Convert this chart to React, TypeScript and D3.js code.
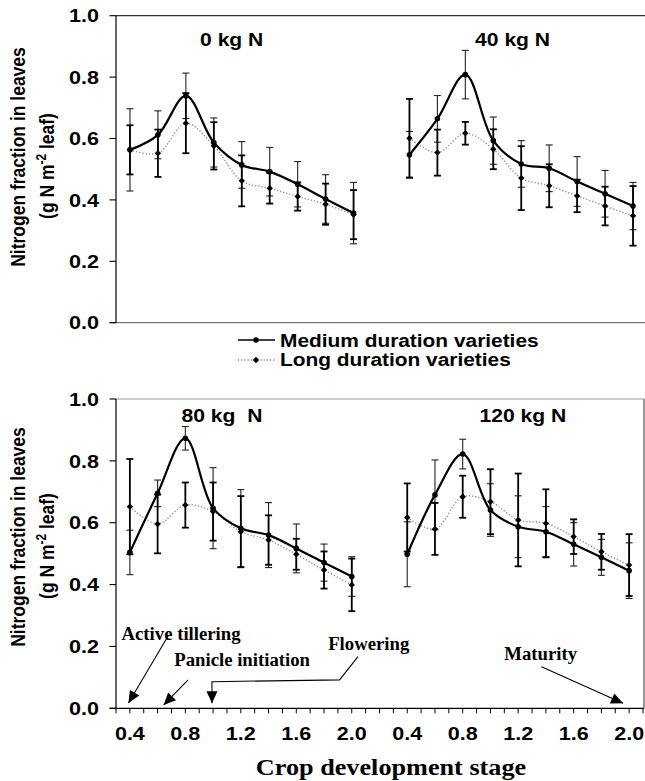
import React from 'react';
import * as d3 from 'd3';

// ---- data ----
const stages = [0.4, 0.6, 0.8, 1.0, 1.2, 1.4, 1.6, 1.8, 2.0];
const panelTitles = ['0 kg N', '40 kg N', '80 kg  N', '120 kg N'];
const yTicks = [0, 0.2, 0.4, 0.6, 0.8, 1.0];
const xTickLabels = ['0.4', '0.8', '1.2', '1.6', '2.0'];
const xTickValues = [0.4, 0.8, 1.2, 1.6, 2.0];
const seriesNames = ['Medium duration varieties', 'Long duration varieties'];

const med0 = [0.563, 0.612, 0.739, 0.587, 0.514, 0.492, 0.451, 0.403, 0.357];
const medErr0 = [0.134, 0.078, 0.074, 0.08, 0.076, 0.079, 0.074, 0.079, 0.1];
const long0 = [0.563, 0.552, 0.65, 0.576, 0.462, 0.438, 0.411, 0.386, 0.352];
const longErr0 = [0.08, 0.077, 0.098, 0.077, 0.083, 0.05, 0.046, 0.067, 0.08];

const med1 = [0.547, 0.664, 0.808, 0.593, 0.517, 0.503, 0.46, 0.42, 0.38];
const medErr1 = [0.076, 0.076, 0.079, 0.077, 0.076, 0.076, 0.081, 0.076, 0.077];
const long1 = [0.601, 0.554, 0.617, 0.565, 0.471, 0.446, 0.413, 0.38, 0.348];
const longErr1 = [0.128, 0.075, 0.037, 0.065, 0.104, 0.07, 0.053, 0.063, 0.097];

const med2 = [0.504, 0.695, 0.873, 0.647, 0.582, 0.56, 0.517, 0.471, 0.426];
const medErr2 = [0.072, 0.043, 0.038, 0.131, 0.125, 0.105, 0.079, 0.06, 0.064];
const long2 = [0.652, 0.596, 0.657, 0.636, 0.571, 0.544, 0.498, 0.447, 0.399];
const longErr2 = [0.154, 0.095, 0.073, 0.094, 0.115, 0.08, 0.05, 0.06, 0.085];

const med3 = [0.498, 0.69, 0.822, 0.641, 0.587, 0.571, 0.53, 0.488, 0.445];
const medErr3 = [0.105, 0.113, 0.048, 0.085, 0.1, 0.081, 0.07, 0.058, 0.09];
const long3 = [0.617, 0.58, 0.684, 0.668, 0.609, 0.598, 0.555, 0.506, 0.463];
const longErr3 = [0.11, 0.084, 0.068, 0.105, 0.15, 0.11, 0.056, 0.058, 0.1];

// annotations: label, label anchor (stage, value), arrow path points (stage, value) ending at tip
const annLabels = ['Active tillering', 'Panicle initiation', 'Flowering', 'Maturity'];
const annLabelPos = [[0.34, 0.22], [0.72, 0.137], [1.83, 0.19], [3.1, 0.155]];
const annPaths = [
  [[0.68, 0.237], [0.39, 0.017]],
  [[0.82, 0.092], [0.644, 0.011]],
  [[2.045, 0.167], [1.912, 0.092], [0.992, 0.086], [0.992, 0.016]],
  [[3.368, 0.134], [3.956, 0.016]],
];

const W = 645;
const H = 781;
const SX = 1.16;
const SANS = 'Liberation Sans, Arial, sans-serif';
const SERIF = 'Liberation Serif, Times New Roman, serif';

const xTop = d3.scaleLinear().domain([0.3, 4.1]).range([116, 647]);
const xBot = d3.scaleLinear().domain([0.3, 4.1]).range([116, 643]);
const yTop = d3.scaleLinear().domain([0, 1]).range([322.7, 15.7]);
const yBot = d3.scaleLinear().domain([0, 1]).range([708.3, 399]);

const panels = [
  { title: panelTitles[0], med: med0, medErr: medErr0, lng: long0, lngErr: longErr0, off: 0, row: 0, tx: 1.128, ty: 0.9 },
  { title: panelTitles[1], med: med1, medErr: medErr1, lng: long1, lngErr: longErr1, off: 2, row: 0, tx: 3.138, ty: 0.9 },
  { title: panelTitles[2], med: med2, medErr: medErr2, lng: long2, lngErr: longErr2, off: 0, row: 1, tx: 1.064, ty: 0.925 },
  { title: panelTitles[3], med: med3, medErr: medErr3, lng: long3, lngErr: longErr3, off: 2, row: 1, tx: 3.234, ty: 0.927 },
];

function T({ x, y, sx = SX, rot = 0, children, ...rest }: any) {
  return (
    <text transform={`translate(${x},${y}) scale(${sx},1)${rot ? ` rotate(${rot})` : ''}`} {...rest}>
      {children}
    </text>
  );
}

function Arrow({ pts, x, y }: any) {
  const p = pts.map((d: number[]) => [x(d[0]), y(d[1])]);
  const line = d3.line()(p as any) || '';
  const n = p.length;
  const [x1, y1] = p[n - 2];
  const [x2, y2] = p[n - 1];
  const ang = Math.atan2(y2 - y1, x2 - x1);
  const L = 12, hw = 5.5;
  const bx = x2 - L * Math.cos(ang), by = y2 - L * Math.sin(ang);
  const nx = -Math.sin(ang), ny = Math.cos(ang);
  const head = `M${x2},${y2}L${bx + hw * nx},${by + hw * ny}L${bx - hw * nx},${by - hw * ny}Z`;
  return (
    <g>
      <path d={line} fill="none" stroke="#000" strokeWidth={1.1} />
      <path d={head} fill="#000" />
    </g>
  );
}

function Panel({ p }: any) {
  const x = p.row === 0 ? xTop : xBot;
  const y = p.row === 0 ? yTop : yBot;
  const curve = d3.curveCatmullRom.alpha(0.5);
  const lineGen = d3.line<number>().x((_, i) => x(stages[i] + p.off)).y((d) => y(d)).curve(curve);
  const errBars = (vals: number[], errs: number[], color: string, sw: number) =>
    vals.map((v, i) => {
      const cx = x(stages[i] + p.off);
      const t = y(v + errs[i]);
      const b = y(v - errs[i]);
      return (
        <g key={i} stroke={color} strokeWidth={sw}>
          <line x1={cx} x2={cx} y1={t} y2={b} />
          <line x1={cx - 3.5} x2={cx + 3.5} y1={t} y2={t} />
          <line x1={cx - 3.5} x2={cx + 3.5} y1={b} y2={b} />
        </g>
      );
    });
  return (
    <g>
      {errBars(p.med, p.medErr, '#222', 1.1)}
      {errBars(p.lng, p.lngErr, '#000', 1.8)}
      <path d={lineGen(p.lng) || ''} fill="none" stroke="#8a8a8a" strokeWidth={1.4} strokeDasharray="1.2 2" />
      <path d={lineGen(p.med) || ''} fill="none" stroke="#000" strokeWidth={2.2} />
      {p.lng.map((v: number, i: number) => {
        const cx = x(stages[i] + p.off), cy = y(v);
        return <path key={'l' + i} d={`M${cx},${cy - 3.2}L${cx + 3.2},${cy}L${cx},${cy + 3.2}L${cx - 3.2},${cy}Z`} fill="#000" />;
      })}
      {p.med.map((v: number, i: number) => (
        <circle key={'m' + i} cx={x(stages[i] + p.off)} cy={y(v)} r={2.8} fill="#000" />
      ))}
      <T x={x(p.tx)} y={y(p.ty)} textAnchor="middle" fontFamily={SANS} fontWeight="bold" fontSize={18.2} style={{ whiteSpace: 'pre' }}>
        {p.title}
      </T>
    </g>
  );
}

function YAxis({ y, cyTitle }: any) {
  return (
    <g>
      <line x1={116} x2={116} y1={y(1)} y2={y(0)} stroke="#000" strokeWidth={1.2} />
      {yTicks.map((t) => (
        <g key={t}>
          <line x1={109.5} x2={116} y1={y(t)} y2={y(t)} stroke="#000" strokeWidth={1.1} />
          <T x={99} y={y(t)} dy="0.36em" textAnchor="end" fontFamily={SANS} fontWeight="bold" fontSize={18.6}>
            {t.toFixed(1)}
          </T>
        </g>
      ))}
      <T x={25} y={cyTitle} rot={-90} textAnchor="middle" fontFamily={SANS} fontWeight="bold" fontSize={17.5}>
        Nitrogen fraction in leaves
      </T>
      <T x={54} y={cyTitle + 9} rot={-90} textAnchor="middle" fontFamily={SANS} fontWeight="bold" fontSize={17.5}>
        (g N m<tspan dy="-7" fontSize={12}>-2</tspan>
        <tspan dy="7"> leaf)</tspan>
      </T>
    </g>
  );
}

export default function App() {
  const minorTicks = d3.range(0.3, 4.1001, 0.1);
  return (
    <svg width={W} height={H} style={{ display: 'block', position: 'absolute', left: 0, top: 0 }}>
      <rect width={W} height={H} fill="#fff" />
      {/* top frame */}
      <line x1={116} x2={645} y1={yTop(1)} y2={yTop(1)} stroke="#333" strokeWidth={1.2} />
      <line x1={109.5} x2={645} y1={yTop(0)} y2={yTop(0)} stroke="#777" strokeWidth={1.2} />
      <YAxis y={yTop} cyTitle={157} />
      {/* bottom frame */}
      <line x1={116} x2={644} y1={yBot(1)} y2={yBot(1)} stroke="#999" strokeWidth={1.2} />
      <line x1={644} x2={644} y1={yBot(1)} y2={yBot(0)} stroke="#555" strokeWidth={1.2} />
      <YAxis y={yBot} cyTitle={537} />
      <line x1={109.5} x2={644} y1={yBot(0)} y2={yBot(0)} stroke="#000" strokeWidth={1.2} />
      {minorTicks.map((t, i) => (
        <line key={i} x1={xBot(t)} x2={xBot(t)} y1={yBot(0)} y2={yBot(0) + 5} stroke="#000" strokeWidth={1} />
      ))}
      {[0, 2].map((off) =>
        xTickValues.map((v, i) => (
          <T key={off + '-' + i} x={xBot(v + off)} y={740} textAnchor="middle" fontFamily={SANS} fontWeight="bold" fontSize={18.6}>
            {xTickLabels[i]}
          </T>
        ))
      )}
      <T x={391} y={775} textAnchor="middle" fontFamily={SERIF} fontWeight="bold" fontSize={22.6}>
        Crop development stage
      </T>
      {panels.map((p, i) => (
        <Panel key={i} p={p} />
      ))}
      {/* legend */}
      <g>
        <line x1={238} x2={275} y1={340} y2={340} stroke="#000" strokeWidth={1.6} />
        <circle cx={256} cy={340} r={2.8} fill="#000" />
        <T x={280} y={347} fontFamily={SANS} fontWeight="bold" fontSize={18}>{seriesNames[0]}</T>
        <line x1={238} x2={275} y1={360} y2={360} stroke="#8a8a8a" strokeWidth={1.4} strokeDasharray="1.2 2" />
        <path d="M256,356.8L259.2,360L256,363.2L252.8,360Z" fill="#000" />
        <T x={280} y={366} fontFamily={SANS} fontWeight="bold" fontSize={18}>{seriesNames[1]}</T>
      </g>
      {/* annotations */}
      {annLabels.map((lab, i) => (
        <T key={lab} x={xBot(annLabelPos[i][0])} y={yBot(annLabelPos[i][1])} sx={1.04} fontFamily={SERIF} fontWeight="bold" fontSize={18}>
          {lab}
        </T>
      ))}
      {annPaths.map((pts, i) => (
        <Arrow key={i} pts={pts} x={xBot} y={yBot} />
      ))}
    </svg>
  );
}
